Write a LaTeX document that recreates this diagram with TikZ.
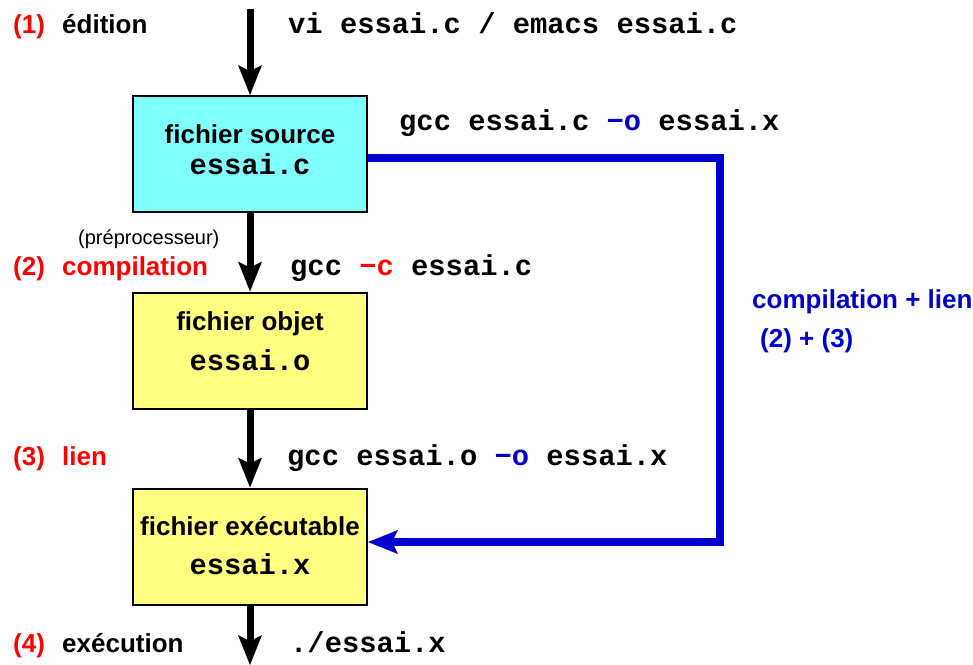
\documentclass[tikz,border=0pt]{standalone}
\usepackage{fontspec}
\setmainfont{Liberation Sans}
\setmonofont{Liberation Mono}
\usetikzlibrary{arrows.meta}
\definecolor{cyanfill}{HTML}{80FFFF}
\definecolor{yelfill}{HTML}{FFFF80}
\definecolor{myred}{HTML}{FF0000}
\definecolor{myblue}{HTML}{0000CC}
\newcommand{\sfb}{\fontsize{26}{30}\selectfont\bfseries}
\newcommand{\ttb}{\fontsize{28.8}{34}\selectfont\ttfamily\bfseries}
\begin{document}
\begin{tikzpicture}[x=1pt,y=-1pt,
  filebox/.style={draw=black,line width=2pt,minimum width=234pt,minimum height=116pt,inner sep=0pt},
  lbl/.style={inner sep=0pt,anchor=base west},
  ctr/.style={inner sep=0pt,anchor=base},
  bigtip/.style={-{Stealth[length=30pt,width=24pt,inset=6pt,line width=0pt]}},
  flow/.style={bigtip,draw=black,line width=7pt},
  direct/.style={bigtip,draw=myblue,line width=8pt,line join=miter}]
\useasboundingbox (0,0) rectangle (973,664);

% boxes
\node[filebox,fill=cyanfill] (src) at (250,154) {};
\node[filebox,fill=yelfill] (obj) at (250,350.5) {};
\node[filebox,fill=yelfill] (exe) at (250,546.5) {};

\node[ctr] (srcA) at (250,143) {\sfb fichier source};
\node[ctr] (srcB) at (250,174) {\ttb essai.c};
\node[ctr] (objA) at (250,330) {\sfb fichier objet};
\node[ctr] (objB) at (250,370) {\ttb essai.o};
\node[ctr] (exeA) at (250,535) {\sfb fichier exécutable};
\node[ctr] (exeB) at (250,574) {\ttb essai.x};

% step labels
\node[lbl,text=myred] (n1) at (13,33) {\sfb (1)};
\node[lbl] (t1) at (62,33) {\sfb édition};
\node[lbl] (c1) at (288,33) {\ttb vi essai.c / emacs essai.c};

\node[lbl] (c2) at (399,130) {\ttb gcc essai.c \textcolor{myblue}{−o} essai.x};

\node[lbl] (pre) at (78,244) {\fontsize{20}{24}\selectfont (préprocesseur)};
\node[lbl,text=myred] (n2) at (13,275) {\sfb (2)};
\node[lbl,text=myred] (t2) at (62,275) {\sfb compilation};
\node[lbl] (c3) at (290,275) {\ttb gcc \textcolor{myred}{−c} essai.c};

\node[lbl,text=myred] (n3) at (13,465) {\sfb (3)};
\node[lbl,text=myred] (t3) at (62,465) {\sfb lien};
\node[lbl] (c4) at (287,465) {\ttb gcc essai.o \textcolor{myblue}{−o} essai.x};

\node[lbl,text=myred] (n4) at (13,652) {\sfb (4)};
\node[lbl] (t4) at (62,652) {\sfb exécution};
\node[lbl] (c5) at (290,652) {\ttb ./essai.x};

\node[lbl,text=myblue] (b1) at (752,308) {\sfb compilation + lien};
\node[lbl,text=myblue] (b2) at (760,347) {\sfb (2) + (3)};

% connectors
\coordinate (top) at (250,9);
\coordinate (bottom) at (250,665);
\draw[flow] (top) -- (src.north);
\draw[flow] (src) -- (obj);
\draw[flow] (obj) -- (exe);
\draw[flow] (exe.south) -- (bottom);

\coordinate (bendA) at (720,158);
\coordinate (bendB) at (720,542);
\draw[direct] (src.east |- bendA) -- (bendA) -- (bendB) -- (exe.east |- bendB);
\end{tikzpicture}
\end{document}
